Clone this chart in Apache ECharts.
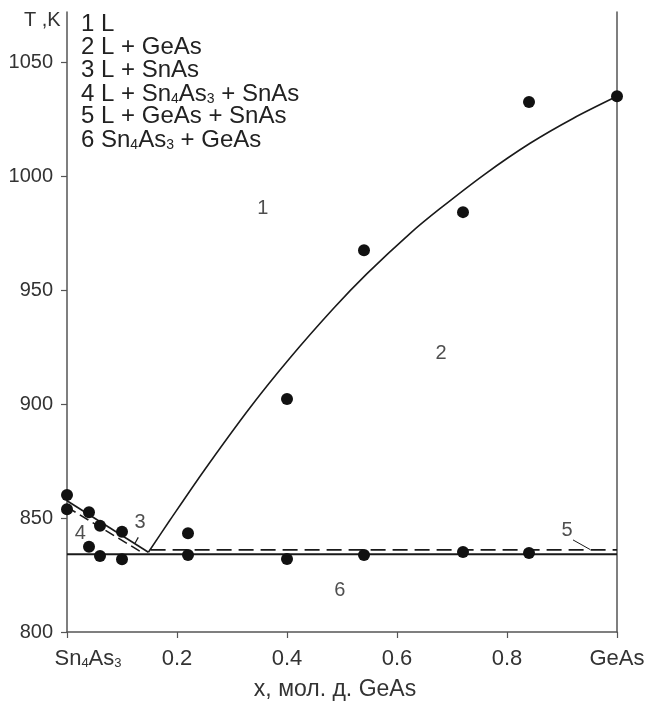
<!DOCTYPE html>
<html>
<head>
<meta charset="utf-8">
<script src="https://cdn.jsdelivr.net/npm/echarts@6/dist/echarts.min.js"></script>
<style>html,body{margin:0;padding:0;background:#fff}#c{width:650px;height:709px}</style>
</head>
<body>
<div id="c"></div>
<script>
// ---- data ----
const xTickLabels = ['Sn4As3', '0.2', '0.4', '0.6', '0.8', 'GeAs'];
const yTickValues = [800, 850, 900, 950, 1000, 1050];
// experimental points
const expX = [0, 0, 0.04, 0.04, 0.06, 0.06, 0.10, 0.10, 0.22, 0.22, 0.40, 0.40, 0.54, 0.54, 0.72, 0.72, 0.84, 0.84, 1.0];
const expT = [860.1, 853.8, 852.5, 837.4, 846.6, 833.3, 844.0, 831.9, 843.3, 833.8, 902.2, 832.0, 967.5, 833.8, 984.2, 835.1, 1032.5, 834.7, 1035];
// GeAs liquidus
const liqX = [0.148, 0.187, 0.25, 0.333, 0.405, 0.484, 0.545, 0.624, 0.678, 0.76, 0.842, 0.92, 1.0];
const liqT = [835.0, 849.0, 871.1, 898.5, 920.1, 941.8, 957.1, 974.9, 985.7, 1000.9, 1014.4, 1025.3, 1035];
// SnAs side lines
const snSolidX = [0, 0.148];
const snSolidT = [857.6, 835.0];
const snDashX = [0, 0.139];
const snDashT = [854.8, 834.5];
// eutectic horizontals
const eutSolidX = [0, 1];
const eutSolidT = [834.1, 834.1];
const eutDashX = [0.152, 1];
const eutDashT = [836.0, 836.0];
// leader lines
const lead3X = [0.1236, 0.1296];
const lead3T = [838.9, 841.5];
const lead5X = [0.92, 0.951];
const lead5T = [840.4, 836.2];
// region labels
const regionNames = ['1', '2', '3', '4', '5', '6'];
const regionX = [0.356, 0.68, 0.133, 0.024, 0.909, 0.496];
const regionT = [986, 922.4, 848.2, 843.3, 844.7, 818.4];
// legend text
const legendLines = ['1 L', '2 L + GeAs', '3 L + SnAs', '4 L + Sn4As3 + SnAs', '5 L + GeAs + SnAs', '6 Sn4As3 + GeAs'];
const yName = 'T ,K';
const xName = 'x, мол. д. GeAs';

// ---- helpers ----
const FONT = '"Liberation Sans", Arial, sans-serif';
function toRich(s) { return s.replace(/([A-Za-z])(\d)/g, '$1{s|$2}'); }
function pairs(xs, ts) { return xs.map((x, i) => [x, ts[i]]); }

const chart = echarts.init(document.getElementById('c'), null, {renderer: 'canvas'});
const axisColor = '#555';
const lineColor = '#1a1a1a';

function lineSeries(xs, ts, dash, width, smooth) {
  return {
    type: 'line', data: pairs(xs, ts), showSymbol: false, symbol: 'none', silent: true,
    smooth: smooth || false,
    lineStyle: {color: lineColor, width: width || 1.6, type: dash || 'solid'},
    z: 3
  };
}

const legendY = [24, 47.5, 70.7, 94, 116.7, 140];

const option = {
  animation: false,
  backgroundColor: '#fff',
  grid: {left: 67, right: 33, top: 12, bottom: 77, containLabel: false},
  xAxis: {
    type: 'value', min: 0, max: 1, interval: 0.2,
    axisLine: {show: true, onZero: false, lineStyle: {color: axisColor, width: 1.5}},
    axisTick: {show: true, inside: false, length: 6, lineStyle: {color: axisColor, width: 1.2}},
    splitLine: {show: false},
    axisLabel: {
      fontFamily: FONT, fontSize: 22, color: '#333', margin: 16,
      formatter: function (v) {
        const i = Math.round(v * 5);
        const t = xTickLabels[i];
        if (i === 0) return '{p| }' + toRich(t);
        return toRich(t);
      },
      rich: {
        p: {width: 42, fontSize: 22},
        s: {fontSize: 13, lineHeight: 11, verticalAlign: 'bottom', fontFamily: FONT, color: '#333'}
      }
    }
  },
  yAxis: [{
    type: 'value', min: 800, max: 1072, interval: 50,
    axisLine: {show: true, onZero: false, lineStyle: {color: axisColor, width: 1.5}},
    axisTick: {show: true, inside: false, length: 6, customValues: yTickValues, lineStyle: {color: axisColor, width: 1.2}},
    splitLine: {show: false},
    axisLabel: {fontFamily: FONT, fontSize: 20, color: '#333', margin: 14, customValues: yTickValues,
      formatter: function (v) { return String(v); }}
  }, {
    type: 'value', min: 800, max: 1072, position: 'right',
    axisLine: {show: true, onZero: false, lineStyle: {color: axisColor, width: 1.5}},
    axisTick: {show: false}, axisLabel: {show: false}, splitLine: {show: false}
  }],
  series: [
    lineSeries(liqX, liqT, 'solid', 1.6, 0.3),
    lineSeries(snSolidX, snSolidT, 'solid', 1.6),
    lineSeries(snDashX, snDashT, [10, 5], 1.6),
    lineSeries(eutSolidX, eutSolidT, 'solid', 1.8),
    lineSeries(eutDashX, eutDashT, [15, 7], 1.8),
    lineSeries(lead3X, lead3T, 'solid', 1.2),
    lineSeries(lead5X, lead5T, 'solid', 1.0),
    {
      type: 'scatter', data: pairs(expX, expT), symbol: 'circle', symbolSize: 12,
      itemStyle: {color: '#111', opacity: 1}, silent: true, z: 5
    },
    {
      type: 'scatter', data: pairs(regionX, regionT), symbolSize: 1, silent: true,
      itemStyle: {color: 'rgba(0,0,0,0)'},
      label: {
        show: true, position: 'inside', fontFamily: FONT, fontSize: 20, color: '#222',
        formatter: function (p) { return regionNames[p.dataIndex]; }
      }
    }
  ],
  graphic: [
    {
      type: 'text', left: 24, top: 10,
      style: {text: yName, font: '20px ' + FONT, fill: '#333'}
    },
    {
      type: 'text', x: 335, y: 690,
      style: {text: xName, font: '23px ' + FONT, fill: '#333', align: 'center', verticalAlign: 'middle'}
    }
  ].concat(legendLines.map(function (t, i) {
    return {
      type: 'text', x: 81, y: legendY[i],
      style: {
        text: toRich(t), font: '24px ' + FONT, fill: '#222', align: 'left', verticalAlign: 'middle',
        rich: {s: {fontSize: 14, fontFamily: FONT, lineHeight: 12, verticalAlign: 'bottom', fill: '#222'}}
      }
    };
  }))
};
chart.setOption(option);
</script>
</body>
</html>
